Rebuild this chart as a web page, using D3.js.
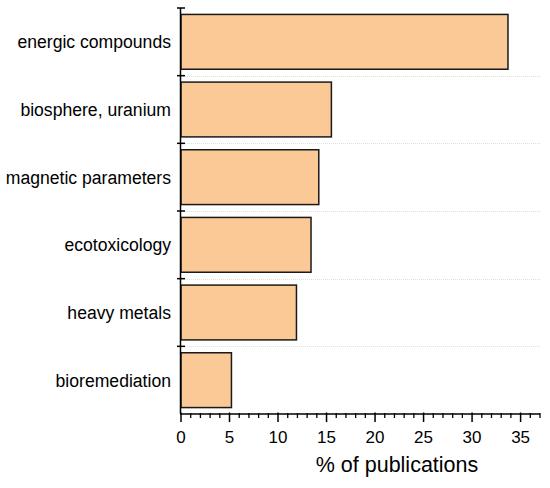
<!DOCTYPE html>
<html>
<head>
<meta charset="utf-8">
<script src="https://cdn.jsdelivr.net/npm/d3@7"></script>
<style>
  body { margin: 0; background: #fff; }
  svg { display: block; }
  text { font-family: "Liberation Sans", Arial, sans-serif; fill: #000; }
</style>
</head>
<body>
<svg id="chart" width="550" height="488"></svg>
<script>
const categories = ["energic compounds", "biosphere, uranium", "magnetic parameters", "ecotoxicology", "heavy metals", "bioremediation"];
const values = [33.7, 15.5, 14.2, 13.4, 11.9, 5.2];
const xTicks = [0, 5, 10, 15, 20, 25, 30, 35];
const xMinorTicks = d3.range(0, 38, 1);
const xTitle = "% of publications";

const svg = d3.select("#chart");
const x = d3.scaleLinear().domain([0, 37]).range([181, 540]);
const y = d3.scaleBand().domain(categories).range([8, 414]).paddingInner(0.19).paddingOuter(0.095);
const yb = d3.scaleBand().domain(categories).range([8, 414]);

// gridlines (interior band boundaries)
const boundaries = categories.slice(1).map(c => yb(c));
svg.append("g").selectAll("line").data(boundaries).join("line")
  .attr("x1", 181).attr("x2", 540)
  .attr("y1", d => Math.round(d) + 0.5).attr("y2", d => Math.round(d) + 0.5)
  .attr("stroke", "#dedede").attr("stroke-width", 1).attr("stroke-dasharray", "1,1");

// bars
svg.append("g").selectAll("rect").data(values).join("rect")
  .attr("x", x(0))
  .attr("y", (d, i) => y(categories[i]))
  .attr("width", d => x(d) - x(0))
  .attr("height", y.bandwidth())
  .attr("fill", "#fbc995")
  .attr("stroke", "#1a1a1a").attr("stroke-width", 1.5);

// y axis line and ticks
const allBounds = categories.map(c => yb(c));
svg.append("line").attr("x1", 180.5).attr("x2", 180.5).attr("y1", 8).attr("y2", 414)
  .attr("stroke", "#000").attr("stroke-width", 1.5);
svg.append("g").selectAll("line").data(allBounds).join("line")
  .attr("x1", 177).attr("x2", 185)
  .attr("y1", d => d).attr("y2", d => d)
  .attr("stroke", "#000").attr("stroke-width", 1.5);

// y labels
svg.append("g").selectAll("text").data(categories).join("text")
  .attr("x", 171)
  .attr("y", d => yb(d) + yb.bandwidth() / 2)
  .attr("dy", "0.37em")
  .attr("text-anchor", "end")
  .attr("font-size", 17.6)
  .text(d => d);

// x axis
const xAxisG = svg.append("g").attr("transform", "translate(0,414)");
xAxisG.append("line").attr("x1", 180).attr("x2", 540).attr("y1", 0).attr("y2", 0)
  .attr("stroke", "#000").attr("stroke-width", 1.5);
xAxisG.append("g").selectAll("line").data(xMinorTicks.filter(v => v % 5 !== 0)).join("line")
  .attr("x1", d => x(d)).attr("x2", d => x(d)).attr("y1", -1).attr("y2", 4)
  .attr("stroke", "#000").attr("stroke-width", 1.3);
xAxisG.append("g").selectAll("line").data(xTicks).join("line")
  .attr("x1", d => x(d)).attr("x2", d => x(d)).attr("y1", -1.5).attr("y2", 8)
  .attr("stroke", "#000").attr("stroke-width", 1.5);
xAxisG.append("g").selectAll("text").data(xTicks).join("text")
  .attr("x", d => x(d)).attr("y", 28.5)
  .attr("text-anchor", "middle").attr("font-size", 17)
  .text(d => d);

svg.append("text").attr("x", 397).attr("y", 472)
  .attr("text-anchor", "middle").attr("font-size", 21.5)
  .text(xTitle);
</script>
</body>
</html>
